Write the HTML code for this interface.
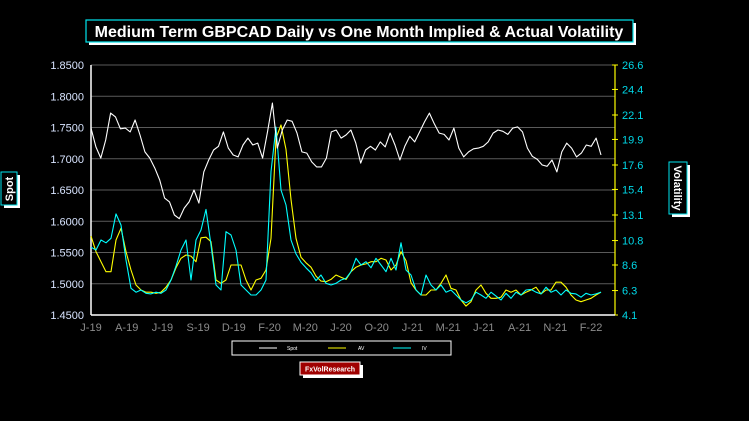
<!DOCTYPE html>
<html><head><meta charset="utf-8">
<style>
body{margin:0;background:#000;width:749px;height:421px;overflow:hidden;font-family:"Liberation Sans",sans-serif}
svg{position:absolute;left:0;top:0}
</style></head><body>
<svg width="749" height="421">
<rect x="0" y="0" width="749" height="421" fill="#000"/>
<g>
<rect x="89" y="23" width="547" height="22" fill="#fff"/>
<rect x="86" y="20" width="547" height="22" fill="#000" stroke="#00e5ee" stroke-width="1.2"/>
<text x="359" y="37" fill="#fff" font-size="16" font-weight="bold" text-anchor="middle">Medium Term GBPCAD Daily vs One Month Implied &amp; Actual Volatility</text>
</g>
<g id="grid"></g>
<g id="leftax"></g>
<g id="rightax"></g>
<g id="xax"></g>
<g id="series"></g>
<g>
<rect x="4" y="175" width="16" height="33" fill="#fff"/>
<rect x="1" y="172" width="16" height="33" fill="#000" stroke="#00e5ee"/>
<text transform="translate(13,189) rotate(-90)" fill="#fff" font-size="11" font-weight="bold" text-anchor="middle">Spot</text>
</g>
<g>
<rect x="672" y="165" width="18" height="52" fill="#fff"/>
<rect x="669" y="162" width="18" height="52" fill="#000" stroke="#00e5ee"/>
<text transform="translate(674,188) rotate(90)" fill="#fff" font-size="11" font-weight="bold" text-anchor="middle">Volatility</text>
</g>
<g>
<rect x="232" y="341" width="219" height="14" fill="#000" stroke="#fff"/>
<line x1="259" y1="348" x2="277" y2="348" stroke="#fff"/><text x="287" y="350" fill="#fff" font-size="5">Spot</text>
<line x1="328" y1="348" x2="346" y2="348" stroke="#ff0"/><text x="358" y="350" fill="#fff" font-size="5">AV</text>
<line x1="393" y1="348" x2="411" y2="348" stroke="#0ff"/><text x="422" y="350" fill="#fff" font-size="5">IV</text>
</g>
<g>
<rect x="303" y="365" width="60" height="13" fill="#fff"/>
<rect x="300" y="362" width="60" height="13" fill="#a00000" stroke="#fff"/>
<text x="330" y="371.5" fill="#fff" font-size="7" font-weight="bold" text-anchor="middle">FxVolResearch</text>
</g>
</svg>
<script>
const spotTicks=[1.85,1.80,1.75,1.70,1.65,1.60,1.55,1.50,1.45];
const volTicks=[26.6,24.4,22.1,19.9,17.6,15.4,13.1,10.8,8.6,6.3,4.1];
const xLabels=["J-19","A-19","J-19","S-19","D-19","F-20","M-20","J-20","O-20","J-21","M-21","J-21","A-21","N-21","F-22"];
const spot=[1.749,1.719,1.701,1.730,1.773,1.767,1.748,1.749,1.743,1.762,1.738,1.711,1.701,1.685,1.666,1.637,1.631,1.610,1.604,1.621,1.631,1.650,1.629,1.679,1.698,1.714,1.720,1.743,1.717,1.706,1.703,1.722,1.733,1.722,1.725,1.701,1.743,1.789,1.717,1.746,1.762,1.760,1.741,1.711,1.709,1.695,1.687,1.687,1.701,1.743,1.746,1.733,1.738,1.746,1.725,1.693,1.714,1.720,1.714,1.727,1.719,1.741,1.722,1.698,1.720,1.736,1.727,1.743,1.759,1.773,1.756,1.741,1.739,1.730,1.749,1.717,1.703,1.711,1.716,1.717,1.720,1.727,1.741,1.746,1.744,1.739,1.749,1.751,1.743,1.717,1.704,1.699,1.690,1.688,1.698,1.679,1.711,1.725,1.717,1.703,1.709,1.722,1.720,1.733,1.706];
const iv=[10.2,9.95,10.85,10.6,11.0,13.2,12.2,9.05,6.5,6.15,6.35,6.05,6.0,6.15,6.05,6.35,7.25,8.5,9.95,10.85,7.25,10.85,11.75,13.6,10.4,6.8,6.35,11.6,11.3,9.95,6.8,6.35,5.9,5.9,6.35,7.25,17.0,21.0,15.35,14.0,10.85,9.6,8.85,8.35,7.9,7.2,7.7,6.95,6.8,6.95,7.25,7.4,8.0,9.2,8.6,8.9,8.35,9.2,8.6,8.0,9.2,8.15,10.6,8.15,7.7,6.35,5.9,7.7,6.8,6.35,6.8,6.15,6.35,5.9,5.45,5.2,5.45,6.15,5.9,5.6,6.15,5.8,5.45,6.05,5.6,6.15,5.9,6.35,6.4,6.15,6.0,6.6,6.15,6.35,5.9,6.35,6.05,6.0,5.7,6.05,5.9,6.0,6.15];
const av=[11.2,9.8,8.9,8.0,8.0,10.85,11.9,9.8,8.15,6.8,6.35,6.15,6.15,6.05,6.15,6.6,7.25,8.35,9.2,9.5,9.4,8.9,11.05,11.1,10.7,7.25,6.95,7.25,8.6,8.6,8.6,7.25,6.35,7.25,7.4,8.15,11.0,20.0,21.2,19.0,14.5,11.0,9.3,8.8,8.4,7.6,7.15,7.1,7.3,7.7,7.5,7.3,8.0,8.4,8.6,8.7,8.9,8.9,9.2,9.05,8.15,8.6,9.8,9.0,7.0,6.35,5.9,5.9,6.35,6.35,6.95,7.7,6.5,6.35,5.45,4.9,5.3,6.35,6.8,6.05,5.6,5.6,5.7,6.35,6.15,6.35,5.9,6.15,6.35,6.6,6.0,6.35,6.35,7.05,7.05,6.6,5.9,5.45,5.3,5.45,5.6,5.9,6.15];

const NS="http://www.w3.org/2000/svg";
const L=91,R=615,T=65,B=315,XE=601;
const ySpot=v=>T+(1.85-v)/(1.85-1.45)*(B-T);
const yVol=v=>T+(26.6-v)/(26.6-4.1)*(B-T);
const xIdx=(i,n)=>L+i*(XE-L)/(n-1);
function mk(tag,attrs,parent,txt){const e=document.createElementNS(NS,tag);for(const k in attrs)e.setAttribute(k,attrs[k]);if(txt!==undefined)e.textContent=txt;parent.appendChild(e);return e;}
const grid=document.getElementById('grid'),la=document.getElementById('leftax'),ra=document.getElementById('rightax'),xa=document.getElementById('xax'),se=document.getElementById('series');
spotTicks.forEach(t=>{const y=ySpot(t);
 if(t>1.45){const g=mk('line',{x1:L,x2:R,y1:y,y2:y,stroke:'#5a5a5a','stroke-width':1},grid);}
 const tx=mk('text',{x:84,y:y+4,fill:'#d8e4ff','font-size':11,'text-anchor':'end'},la,t.toFixed(4));
 
});
mk('line',{x1:L,x2:L,y1:T,y2:B,stroke:'#fff','stroke-width':1.5},la);
mk('line',{x1:L,x2:R,y1:B,y2:B,stroke:'#fff','stroke-width':1.5},xa);
mk('line',{x1:R,x2:R,y1:T,y2:B,stroke:'#ff0','stroke-width':1.2},ra);
volTicks.forEach(t=>{const y=yVol(t);
 mk('line',{x1:R-3,x2:R+3,y1:y,y2:y,stroke:'#ff0'},ra);
 const tx=mk('text',{x:622,y:y+4,fill:'#00d8e8','font-size':11},ra,t.toFixed(1));
 
});
xLabels.forEach((s,i)=>{const x=L+i*(591-L)/(xLabels.length-1);
 const tx=mk('text',{x:x,y:331,fill:'#8c8c8c','font-size':11,'text-anchor':'middle'},xa,s);
 
});
function line(arr,yf,col,name){const p=arr.map((v,i)=>xIdx(i,arr.length).toFixed(1)+','+yf(v).toFixed(1)).join(' ');
 const e=mk('polyline',{points:p,fill:'none',stroke:col,'stroke-width':1.1,'stroke-linejoin':'round'},se);
 }
line(av,yVol,'#ffff00','av-line');
line(iv,yVol,'#00ffff','iv-line');
line(spot,ySpot,'#ffffff','spot-line');
</script>
</body></html>
